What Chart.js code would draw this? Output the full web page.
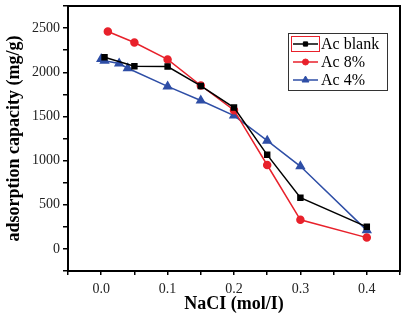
<!DOCTYPE html>
<html><head><meta charset="utf-8">
<script src="https://cdn.jsdelivr.net/npm/chart.js@4.4.1/dist/chart.umd.min.js"></script>
<style>html,body{margin:0;padding:0;background:#fff}#w{width:406px;height:319px}</style>
</head><body><div id="w"><canvas id="c" width="406" height="319"></canvas></div>
<script>
const seriesNames = ["Ac blank", "Ac 8%", "Ac 4%"];
const blankX = [0.005, 0.05, 0.1, 0.15, 0.2, 0.25, 0.3, 0.4];
const blankY = [2170, 2068, 2065, 1845, 1600, 1065, 580, 250];
const ac8X = [0.01, 0.05, 0.1, 0.15, 0.2, 0.25, 0.3, 0.4];
const ac8Y = [2462, 2337, 2145, 1850, 1570, 950, 330, 128];
const ac4X = [0.0, 0.005, 0.027, 0.04, 0.1, 0.15, 0.2, 0.25, 0.3, 0.4];
const ac4Y = [2150, 2130, 2100, 2045, 1840, 1680, 1510, 1225, 935, 210];
const xTickLabels = ["0.0", "0.1", "0.2", "0.3", "0.4"];
const yTickLabels = ["0", "500", "1000", "1500", "2000", "2500"];

const colors = ["#000000", "#e8212b", "#2e4ea6"];
const shapes = ["rect", "circle", "triangle"];
const radii = [3.5, 3.5, 4.5];
function pts(xs, ys){ return xs.map((x,i)=>({x:x, y:ys[i]})); }
const dataSets = [pts(blankX, blankY), pts(ac8X, ac8Y), pts(ac4X, ac4Y)];
const FONT = "'Liberation Serif', 'DejaVu Serif', serif";

const frame = {
  id: 'frame',
  afterDraw(chart){
    const {ctx, chartArea:a} = chart;
    ctx.save();
    ctx.strokeStyle = '#000'; ctx.lineWidth = 2;
    ctx.strokeRect(a.left, a.top, a.right - a.left, a.bottom - a.top);
    // legend
    const lx = 288, ly = 33, lw = 99, lh = 57;
    ctx.lineWidth = 1; ctx.strokeStyle = '#333';
    ctx.strokeRect(lx + 0.5, ly + 0.5, lw, lh);
    ctx.font = "16px " + FONT;
    ctx.textBaseline = 'middle';
    chart.data.datasets.forEach((ds, i) => {
      const cy = ly + 11 + i * 18;
      if (i === 0) { ctx.strokeStyle = '#e8212b'; ctx.lineWidth = 1; ctx.strokeRect(lx + 3.5, cy - 7.5, 28, 15); }
      ctx.strokeStyle = ds.borderColor; ctx.lineWidth = 1.5;
      ctx.beginPath(); ctx.moveTo(lx + 5, cy); ctx.lineTo(lx + 30, cy); ctx.stroke();
      ctx.fillStyle = ds.pointBackgroundColor; ctx.strokeStyle = ds.pointBorderColor; ctx.lineWidth = 1;
      Chart.helpers.drawPoint(ctx, {pointStyle: ds.pointStyle, radius: ds.pointRadius - 0.5, rotation: 0, borderWidth: 1}, lx + 17.5, cy);
      ctx.fillStyle = '#000';
      ctx.fillText(ds.label, lx + 33, cy + 1);
    });
    ctx.restore();
  }
};

new Chart(document.getElementById('c'), {
  type: 'scatter',
  data: {
    datasets: dataSets.map((d, i) => ({
      label: seriesNames[i], data: d, showLine: true,
      borderColor: colors[i], backgroundColor: colors[i],
      pointBackgroundColor: colors[i], pointBorderColor: colors[i],
      pointStyle: shapes[i], pointRadius: radii[i], borderWidth: 1.5, tension: 0
    }))
  },
  options: {
    responsive: false, animation: false, devicePixelRatio: 1,
    layout: { padding: { top: 5, right: 3, left: 0, bottom: 0 } },
    plugins: { legend: { display: false }, tooltip: { enabled: false } },
    scales: {
      x: {
        type: 'linear', min: -0.05, max: 0.45,
        afterFit(s){ s.height = 48; s.paddingLeft = 0; s.paddingRight = 0; },
        grid: { drawOnChartArea: false, color: '#000', tickLength: 4, lineWidth: 1.5 },
        border: { color: '#000', width: 2 },
        ticks: {
          stepSize: 0.05, color: '#222', font: { family: FONT, size: 14 }, padding: 6, maxRotation: 0, autoSkip: false,
          callback(v){ const k = Math.round(v * 100); return (k >= 0 && k % 10 === 0) ? xTickLabels[k / 10] : ''; }
        },
        title: { display: true, text: 'NaCI (mol/I)', color: '#000', font: { family: FONT, size: 18, weight: 'bold' }, padding: { top: 0 } }
      },
      y: {
        min: -250, max: 2750,
        afterFit(s){ s.width = 68; s.paddingTop = 0; s.paddingBottom = 0; },
        grid: { drawOnChartArea: false, color: '#000', tickLength: 5, lineWidth: 1.5 },
        border: { color: '#000', width: 2 },
        ticks: {
          stepSize: 250, color: '#222', font: { family: FONT, size: 14 }, padding: 3, autoSkip: false,
          callback(v){ return (v >= 0 && v % 500 === 0) ? yTickLabels[v / 500] : ''; }
        },
        title: { display: true, text: 'adsorption capacity (mg/g)', color: '#000', font: { family: FONT, size: 18, weight: 'bold' }, padding: { bottom: 2 } }
      }
    }
  },
  plugins: [frame]
});
</script></body></html>
